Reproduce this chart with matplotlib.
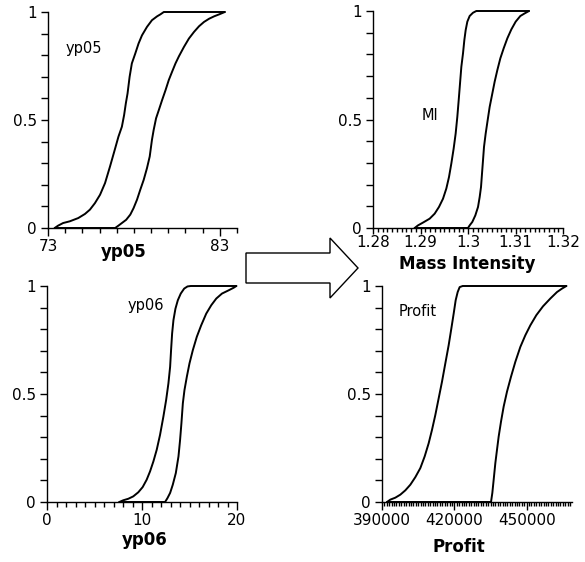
import matplotlib.pyplot as plt
import matplotlib.ticker as mticker
from matplotlib.patches import Polygon

# yp05
yp05_lo_x = [73.39, 73.59, 73.88, 74.27, 74.76, 75.15, 75.44, 75.73, 76.03, 76.32, 76.61, 76.91, 77.10,
             77.30, 77.43, 77.53, 77.63, 77.75, 77.88, 78.08, 78.27, 78.47, 78.76, 79.05, 79.35, 79.54,
             79.74, 83.29]
yp05_lo_p = [0.0, 0.011, 0.023, 0.031, 0.046, 0.065, 0.085, 0.115, 0.154, 0.208, 0.285, 0.369, 0.423,
             0.469, 0.523, 0.577, 0.623, 0.700, 0.762, 0.808, 0.854, 0.892, 0.931, 0.962, 0.980, 0.989,
             1.0, 1.0]
yp05_hi_x = [73.39, 76.91, 77.10, 77.30, 77.55, 77.79, 77.98, 78.18, 78.37, 78.57, 78.76, 78.92, 79.05,
             79.15, 79.29, 79.45, 79.64, 79.84, 80.03, 80.22, 80.42, 80.62, 80.91, 81.20, 81.50, 81.79,
             82.08, 82.38, 82.67, 82.96, 83.29]
yp05_hi_p = [0.0, 0.0, 0.011, 0.023, 0.038, 0.062, 0.092, 0.131, 0.177, 0.223, 0.277, 0.331, 0.408,
             0.454, 0.508, 0.546, 0.592, 0.638, 0.685, 0.723, 0.762, 0.795, 0.838, 0.877, 0.908, 0.934,
             0.954, 0.969, 0.980, 0.989, 1.0]

# Mass Intensity
mi_lo_x = [1.28877, 1.28947, 1.29053, 1.29193, 1.29298, 1.29389, 1.29474, 1.29544, 1.29600, 1.29649,
           1.29698, 1.29740, 1.29775, 1.29804, 1.29832, 1.29860, 1.29895, 1.29923, 1.29951, 1.29986,
           1.30035, 1.30105, 1.30175, 1.31284]
mi_lo_p = [0.0, 0.012, 0.025, 0.043, 0.066, 0.097, 0.135, 0.182, 0.235, 0.297, 0.366, 0.435, 0.512,
           0.589, 0.666, 0.743, 0.805, 0.866, 0.912, 0.951, 0.977, 0.992, 1.0, 1.0]
mi_hi_x = [1.28877, 1.30000, 1.30035, 1.30091, 1.30154, 1.30211, 1.30246, 1.30274, 1.30295, 1.30316,
           1.30337, 1.30372, 1.30414, 1.30456, 1.30505, 1.30561, 1.30618, 1.30681, 1.30751, 1.30828,
           1.30912, 1.31004, 1.31102, 1.31193, 1.31284]
mi_hi_p = [0.0, 0.0, 0.012, 0.028, 0.058, 0.097, 0.143, 0.189, 0.251, 0.312, 0.374, 0.435, 0.497,
           0.558, 0.612, 0.674, 0.728, 0.782, 0.828, 0.874, 0.915, 0.951, 0.977, 0.989, 1.0]

# yp06
yp06_lo_x = [7.61, 8.03, 8.56, 9.08, 9.61, 10.07, 10.49, 10.85, 11.20, 11.55, 11.90, 12.25, 12.54, 12.78,
             12.96, 13.06, 13.17, 13.31, 13.52, 13.77, 14.08, 14.44, 14.79, 15.14, 19.93]
yp06_lo_p = [0.0, 0.008, 0.015, 0.026, 0.045, 0.069, 0.103, 0.142, 0.188, 0.242, 0.311, 0.395, 0.472,
             0.549, 0.626, 0.703, 0.780, 0.842, 0.895, 0.934, 0.965, 0.988, 0.998, 1.0, 1.0]
yp06_hi_x = [7.61, 12.43, 12.68, 12.96, 13.24, 13.56, 13.84, 14.01, 14.15, 14.30, 14.47, 14.72, 15.00,
             15.35, 15.77, 16.23, 16.76, 17.29, 17.82, 18.42, 19.12, 19.65, 19.93]
yp06_hi_p = [0.0, 0.0, 0.018, 0.042, 0.080, 0.134, 0.211, 0.288, 0.365, 0.457, 0.518, 0.580, 0.642,
             0.703, 0.765, 0.818, 0.872, 0.911, 0.942, 0.965, 0.980, 0.992, 1.0]

# Profit
pr_lo_x = [392074, 393456, 395530, 397604, 399678, 401751, 403825, 405899, 407696, 409355, 410738,
           412120, 413503, 414885, 416268, 417650, 418756, 419724, 420553, 421383, 422212, 423457, 466452]
pr_lo_p = [0.0, 0.011, 0.020, 0.034, 0.054, 0.080, 0.115, 0.157, 0.211, 0.272, 0.334, 0.403, 0.480,
           0.557, 0.642, 0.726, 0.803, 0.872, 0.934, 0.972, 0.995, 1.0, 1.0]
pr_hi_x = [392074, 435208, 435761, 436314, 437005, 437696, 438388, 439355, 440461, 441844, 443503,
           445300, 447374, 449448, 451521, 454010, 456775, 459816, 462581, 464655, 466452]
pr_hi_p = [0.0, 0.0, 0.042, 0.103, 0.180, 0.242, 0.303, 0.372, 0.442, 0.511, 0.580, 0.649, 0.718,
           0.772, 0.818, 0.865, 0.906, 0.942, 0.972, 0.988, 1.0]

W, H = 585, 562
fig = plt.figure(figsize=(W / 100, H / 100), dpi=100)
plt.rcParams['font.family'] = ['DejaVu Sans']


def make_ax(left, top, right, bottom):
    # pixel box -> figure fraction
    return fig.add_axes([left / W, 1 - bottom / H, (right - left) / W, (bottom - top) / H])


def style(ax, xlim, major, minor, labels, xlab, lab_x, lab_y, minor_len=3, major_len=6, pad=2):
    ax.set_xlim(*xlim)
    ax.set_ylim(0, 1)
    for s in ['top', 'right']:
        ax.spines[s].set_visible(False)
    for s in ['left', 'bottom']:
        ax.spines[s].set_linewidth(1.0)
    ax.set_xticks(major)
    ax.set_xticklabels(labels)
    ax.xaxis.set_minor_locator(mticker.MultipleLocator(minor))
    ax.set_yticks([0, 0.5, 1])
    ax.set_yticklabels(['0', '0.5', '1'])
    ax.yaxis.set_minor_locator(mticker.MultipleLocator(0.1))
    ax.tick_params(axis='x', which='major', length=major_len, width=1, labelsize=11, pad=pad)
    ax.tick_params(axis='x', which='minor', length=minor_len, width=1)
    ax.tick_params(axis='y', which='both', length=5, width=1, labelsize=11, pad=3)
    ax.set_xlabel(xlab, fontsize=12, fontweight='bold')
    ax.xaxis.set_label_coords(lab_x, lab_y)


def draw(ax, lo_x, lo_p, hi_x, hi_p):
    for xs, ps in [(lo_x, lo_p), (hi_x, hi_p)]:
        ax.plot(xs, ps, color='black', lw=1.4, clip_on=False,
                solid_joinstyle='round', solid_capstyle='round')


ax1 = make_ax(48, 12, 237, 228)
draw(ax1, yp05_lo_x, yp05_lo_p, yp05_hi_x, yp05_hi_p)
style(ax1, (73, 84), [73, 83], 1, ['73', '83'], 'yp05', 0.40, -0.07, minor_len=3.5)
ax1.text(74.0, 0.83, 'yp05', fontsize=10.5, va='center')

ax2 = make_ax(373, 11, 563, 228)
draw(ax2, mi_lo_x, mi_lo_p, mi_hi_x, mi_hi_p)
style(ax2, (1.28, 1.32), [1.28, 1.29, 1.30, 1.31, 1.32], 0.001,
      ['1.28', '1.29', '1.3', '1.31', '1.32'], 'Mass Intensity', 0.496, -0.125,
      major_len=4, pad=1)
ax2.text(1.2903, 0.52, 'MI', fontsize=10.5, va='center')

ax3 = make_ax(47, 286, 237, 502)
draw(ax3, yp06_lo_x, yp06_lo_p, yp06_hi_x, yp06_hi_p)
style(ax3, (0, 20), [0, 10, 20], 1, ['0', '10', '20'], 'yp06', 0.516, -0.135, minor_len=3.5)
ax3.text(8.5, 0.91, 'yp06', fontsize=10.5, va='center')

ax4 = make_ax(382, 286, 572, 502)
draw(ax4, pr_lo_x, pr_lo_p, pr_hi_x, pr_hi_p)
style(ax4, (390000, 468800), [390000, 420000, 450000], 1000,
      ['390000', '420000', '450000'], 'Profit', 0.407, -0.165)
ax4.text(396800, 0.88, 'Profit', fontsize=10.5, va='center')

# hollow block arrow between the panels (pixel outline)
arrow_px = [(246, 253), (330, 253), (330, 238), (358, 268), (330, 298), (330, 283), (246, 283)]
arrow = Polygon([(x / W, 1 - y / H) for x, y in arrow_px], closed=True,
                facecolor='white', edgecolor='black', lw=1.0, transform=fig.transFigure)
fig.patches.append(arrow)

fig.savefig('out.png', dpi=100)
